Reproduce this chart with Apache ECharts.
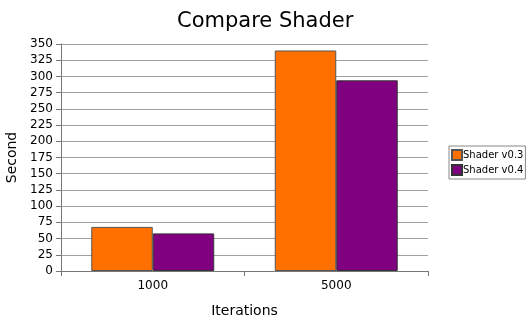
<!DOCTYPE html>
<html>
<head>
<meta charset="utf-8">
<script src="https://cdn.jsdelivr.net/npm/echarts@6/dist/echarts.min.js"></script>
<style>
  html, body { margin: 0; padding: 0; background: #fff; }
  #chart { width: 526px; height: 320px; }
</style>
</head>
<body>
<div id="chart"></div>
<script>
// Render times per shader version, in seconds
const categories = ['1000', '5000'];
const shaderV03 = [68, 340];
const shaderV04 = [58, 294];
const seriesNames = ['Shader v0.3', 'Shader v0.4'];
const yTicks = { min: 0, max: 350, interval: 25 };

const chart = echarts.init(document.getElementById('chart'), null, { renderer: 'canvas' });
const font = 'DejaVu Sans';

chart.setOption({
  animation: false,
  backgroundColor: '#ffffff',
  title: {
    text: 'Compare Shader',
    left: 172,
    top: 6,
    textStyle: { fontFamily: font, fontSize: 21, fontWeight: 'normal', color: '#000' }
  },
  legend: {
    orient: 'vertical',
    left: 449,
    top: 146,
    data: seriesNames,
    itemWidth: 10,
    itemHeight: 10,
    itemGap: 3,
    padding: [3, 2, 3, 2],
    borderColor: '#888',
    borderWidth: 1,
    icon: 'rect',
    textStyle: { fontFamily: font, fontSize: 10, color: '#000', padding: [0, 0, 0, -4] }
  },
  grid: { left: 61, right: 98, top: 44, bottom: 49, outerBoundsMode: 'none', containLabel: false },
  xAxis: {
    type: 'category',
    data: categories,
    name: 'Iterations',
    nameLocation: 'middle',
    nameGap: 33,
    nameTextStyle: { fontFamily: font, fontSize: 14, color: '#000' },
    axisLine: { lineStyle: { color: '#777', width: 1 } },
    axisTick: { show: true, length: 5, lineStyle: { color: '#777' } },
    axisLabel: { fontFamily: font, fontSize: 12, color: '#000', margin: 9 }
  },
  yAxis: {
    type: 'value',
    min: yTicks.min,
    max: yTicks.max,
    interval: yTicks.interval,
    name: 'Second',
    nameLocation: 'middle',
    nameGap: 37,
    nameTextStyle: { fontFamily: font, fontSize: 14, color: '#000' },
    axisLine: { show: true, lineStyle: { color: '#777', width: 1 } },
    axisTick: { show: true, length: 5, lineStyle: { color: '#777' } },
    axisLabel: { fontFamily: font, fontSize: 12, color: '#000', margin: 8 },
    splitLine: { lineStyle: { color: '#a0a0a0', width: 1 } }
  },
  series: [
    {
      name: seriesNames[0],
      type: 'bar',
      data: shaderV03,
      barGap: '0%',
      barCategoryGap: '33%',
      itemStyle: { color: '#ff7000', borderColor: '#555', borderWidth: 1 }
    },
    {
      name: seriesNames[1],
      type: 'bar',
      data: shaderV04,
      itemStyle: { color: '#800080', borderColor: '#333', borderWidth: 1 }
    }
  ]
});
</script>
</body>
</html>
